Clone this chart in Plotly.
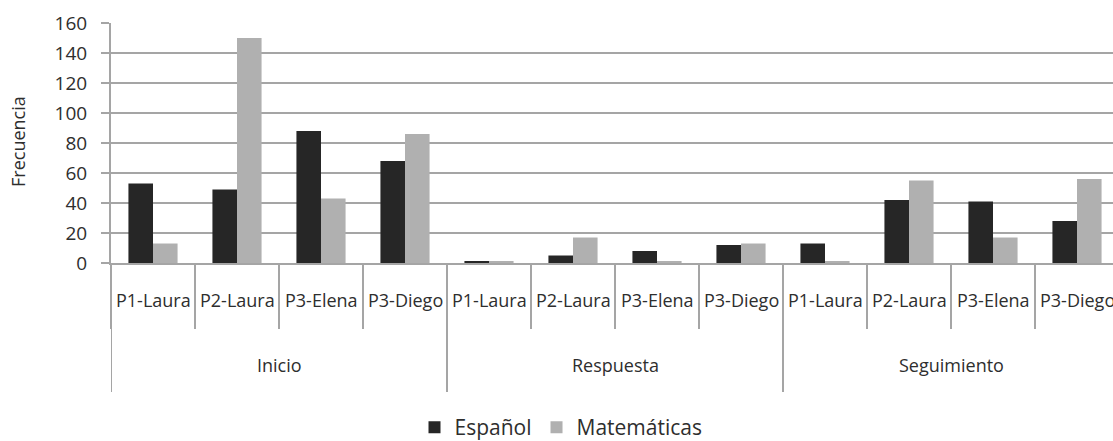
import plotly.graph_objects as go

# Frecuencia de intervenciones por fase y participante
fases = ["Inicio", "Respuesta", "Seguimiento"]
participantes = ["P1-Laura", "P2-Laura", "P3-Elena", "P3-Diego"]
espanol = [53, 49, 88, 68, 1, 5, 8, 12, 13, 42, 41, 28]
matematicas = [13, 150, 43, 86, 1, 17, 1, 13, 1, 55, 17, 56]
y_ticks = [0, 20, 40, 60, 80, 100, 120, 140, 160]

# one unique category key per (fase, participante) pair
claves = [f"{f}|{p}" for f in fases for p in participantes]

FONT = "Open Sans"
TXT = "#2e2e2e"
LINE = "#a5a5a5"

# pixel layout of the figure
W, H = 1113, 441
ML, MT, MB = 111, 23, 178
PH = H - MT - MB          # plot height in px
CAT_PX = 84               # width of one category in px
n_vis = (W - ML) / CAT_PX  # number of categories that fit in the visible width


def py(px):
    """Convert a pixel row of the page to paper y."""
    return (H - MB - px) / PH


fig = go.Figure()
fig.add_trace(go.Bar(name="Español", x=claves, y=espanol,
                     marker=dict(color="#262626", line=dict(width=0))))
fig.add_trace(go.Bar(name="Matemáticas", x=claves, y=matematicas,
                     marker=dict(color="#b0b0b0", line=dict(width=0))))

annotations = []
# participant labels (first level)
for k, clave in enumerate(claves):
    annotations.append(dict(
        x=k, y=py(300), xref="x", yref="paper",
        text=participantes[k % len(participantes)], showarrow=False,
        xanchor="center", yanchor="middle",
        font=dict(family=FONT, size=18, color=TXT)))
# phase labels (second level)
for g, fase in enumerate(fases):
    annotations.append(dict(
        x=g * len(participantes) + (len(participantes) - 1) / 2,
        y=py(365), xref="x", yref="paper",
        text=fase, showarrow=False, xanchor="center", yanchor="middle",
        font=dict(family=FONT, size=18, color=TXT)))
# y axis title
annotations.append(dict(
    x=(18 - ML) / (W - ML), y=py(142), xref="paper", yref="paper",
    text="Frecuencia", showarrow=False, textangle=-90,
    xanchor="center", yanchor="middle",
    font=dict(family=FONT, size=18, color=TXT)))

# long separators between phases
shapes = []
for g in range(len(fases)):
    xb = g * len(participantes) - 0.5
    shapes.append(dict(
        type="line", xref="x", yref="paper",
        x0=xb, x1=xb, y0=0, y1=py(392),
        line=dict(color=LINE, width=2)))

fig.update_layout(
    width=W, height=H,
    margin=dict(l=ML, r=0, t=MT, b=MB, autoexpand=False),
    paper_bgcolor="white", plot_bgcolor="white",
    barmode="group", bargap=0.415, bargroupgap=0,
    font=dict(family=FONT, color=TXT),
    xaxis=dict(
        type="category", range=[-0.5, -0.5 + n_vis],
        showticklabels=False, showgrid=False,
        ticks="outside", tickson="boundaries", ticklen=64,
        tickcolor=LINE, tickwidth=2,
        showline=True, linecolor=LINE, linewidth=2,
        zeroline=False, fixedrange=True),
    yaxis=dict(
        range=[0, 160], tickvals=y_ticks,
        showgrid=True, gridcolor=LINE, gridwidth=2,
        ticks="outside", ticklen=8, tickcolor=LINE, tickwidth=2,
        showline=True, linecolor=LINE, linewidth=2,
        zeroline=False, ticklabelstandoff=10,
        tickfont=dict(family=FONT, size=19, color=TXT)),
    legend=dict(
        orientation="h", x=(561 - ML) / (W - ML), xanchor="center",
        y=py(448), yanchor="bottom",
        font=dict(family=FONT, size=21, color=TXT),
        bgcolor="rgba(0,0,0,0)"),
    showlegend=True,
    annotations=annotations,
    shapes=shapes,
)

fig.write_html("out.html")
